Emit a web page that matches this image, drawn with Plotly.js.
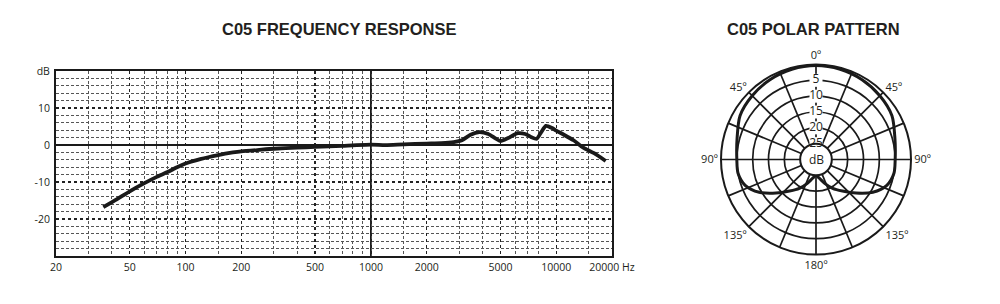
<!DOCTYPE html>
<html>
<head>
<meta charset="utf-8">
<script src="https://cdn.plot.ly/plotly-3.0.1.min.js"></script>
<style>html,body{margin:0;padding:0;background:#fff;}#chart{width:1000px;height:304px;}</style>
</head>
<body>
<div id="chart"></div>
<script>
// ---- Frequency response data ----
const freqHz = [36, 42.5, 50, 60, 70, 80, 90, 100, 120, 150, 180, 200, 250, 300, 400, 500, 700, 1000, 1200, 1500, 2000, 2400, 2800, 3100, 3450, 3850, 4300, 4700, 5000, 5500, 6200, 6800, 7300, 7850, 8300, 8800, 9500, 10000, 11000, 12400, 14000, 16000, 18500];
const responseDb = [-16.8, -14.7, -12.5, -10.3, -8.6, -7.3, -6.0, -5.0, -3.8, -2.7, -2.0, -1.7, -1.3, -1.0, -0.7, -0.5, -0.2, 0.1, 0.0, 0.2, 0.4, 0.5, 0.8, 1.3, 2.8, 3.5, 3.0, 1.8, 1.1, 1.9, 3.2, 3.0, 2.2, 1.7, 3.5, 5.2, 4.6, 3.9, 2.8, 1.3, -0.7, -2.2, -4.3];

const xTickVals = [20, 50, 100, 200, 500, 1000, 2000, 5000, 10000, 20000];
const xTickText = ['20', '50', '100', '200', '500', '1000', '2000', '5000', '10000', '20000 Hz'];
const xMinorGrid = [30, 40, 60, 70, 80, 90, 150, 300, 400, 600, 700, 800, 900, 1500, 3000, 4000, 6000, 7000, 8000, 15000];
const xSolidGrid = [1000];

const yTickVals = [20, 10, 0, -10, -20, -30];
const yTickText = ['dB', '10', '0', '-10', '-20', ''];
const yMinorGrid = [18, 16, 14, 12, 8, 6, 4, 2, -2, -4, -6, -8, -12, -14, -16, -18, -22, -24, -26, -28];

// ---- Polar pattern data: angle (deg) and attenuation (dB) ----
const polarAngles = [0, 15, 30, 45, 60, 75, 90, 100, 110, 120, 130, 140, 150, 160, 170, 180, 190, 200, 210, 220, 230, 240, 250, 260, 270, 285, 300, 315, 330, 345, 360];
const polarAttenDb = [0.3, 0.5, 0.9, 1.5, 2.3, 4.2, 5.0, 5.0, 6.2, 9.3, 13.5, 17.0, 19.5, 22.0, 24.0, 25.0, 24.0, 22.0, 19.5, 17.0, 13.5, 9.3, 6.2, 5.0, 5.0, 4.2, 2.3, 1.5, 0.9, 0.5, 0.3];
const polarMaxDb = 30;
const ringAtten = [5, 10, 15, 20, 25];
const ringLabels = ['5', '10', '15', '20', '25'];
const spokeAngles = [0, 22.5, 45, 67.5, 90, 112.5, 135, 157.5, 180, 202.5, 225, 247.5, 270, 292.5, 315, 337.5];
const spokeLabels = ['0º', '', '45º', '', '90º', '', '135º', '', '180º', '', '135º', '', '90º', '', '45º', ''];

const INK = '#1a1a1a';
const TXT = '#231f20';
const FONT = 'Open Sans, sans-serif';

const traces = [
  {
    type: 'scatter', mode: 'lines', x: freqHz, y: responseDb,
    xaxis: 'x', yaxis: 'y',
    line: {color: INK, width: 3.8, shape: 'spline', smoothing: 0.6},
    hoverinfo: 'skip', showlegend: false
  },
  {
    type: 'scatterpolar', subplot: 'polar', mode: 'lines',
    r: polarAttenDb.map(d => polarMaxDb - d), theta: polarAngles,
    line: {color: INK, width: 3, shape: 'spline', smoothing: 0.8},
    hoverinfo: 'skip', showlegend: false
  },
  {
    type: 'scatterpolar', subplot: 'polar', mode: 'markers+text',
    r: ringAtten.map(d => polarMaxDb - d), theta: ringAtten.map(() => 0),
    text: ringLabels, textposition: 'middle center',
    textfont: {family: FONT, size: 12, color: TXT},
    marker: {symbol: 'square', size: 13, color: '#ffffff', line: {width: 0}},
    cliponaxis: false, hoverinfo: 'skip', showlegend: false
  }
];

const shapes = xSolidGrid.map(f => ({
  type: 'line', xref: 'x', yref: 'y domain', x0: f, x1: f, y0: 0, y1: 1,
  line: {color: INK, width: 1.8}, layer: 'below'
}));

const layout = {
  width: 1000, height: 304, autosize: false,
  margin: {l: 0, r: 0, t: 0, b: 0},
  paper_bgcolor: '#ffffff', plot_bgcolor: '#ffffff',
  font: {family: FONT, size: 10, color: TXT},
  showlegend: false,
  xaxis: {
    type: 'log', domain: [0.056, 0.612],
    range: [Math.log10(20), Math.log10(20000)],
    tickmode: 'array', tickvals: xTickVals, ticktext: xTickText,
    ticks: '', showgrid: true, gridcolor: '#222', gridwidth: 1.4, griddash: 'dot',
    minor: {tickmode: 'array', tickvals: xMinorGrid, showgrid: true, gridcolor: '#555', gridwidth: 1, griddash: '3px,2px', ticks: ''},
    showline: true, mirror: true, linecolor: INK, linewidth: 2,
    zeroline: false, fixedrange: true,
    tickfont: {family: FONT, size: 10.5, color: TXT}
  },
  yaxis: {
    domain: [0.158, 0.766], range: [-30, 20],
    tickmode: 'array', tickvals: yTickVals, ticktext: yTickText,
    ticks: '', ticklabelstandoff: 2,
    showgrid: true, gridcolor: '#222', gridwidth: 1.4, griddash: 'dot',
    minor: {tickmode: 'array', tickvals: yMinorGrid, showgrid: true, gridcolor: '#555', gridwidth: 1, griddash: '3px,2px', ticks: ''},
    zeroline: true, zerolinecolor: INK, zerolinewidth: 1.8,
    showline: true, mirror: true, linecolor: INK, linewidth: 2,
    fixedrange: true,
    tickfont: {family: FONT, size: 10.5, color: TXT}
  },
  polar: {
    domain: {x: [0.721, 0.911], y: [0.1628, 0.7878]},
    hole: 5 / 30,
    bgcolor: '#ffffff',
    radialaxis: {
      range: [5, 30], tickmode: 'array', tickvals: [5, 10, 15, 20, 25],
      showticklabels: false, ticks: '', showline: false,
      gridcolor: INK, gridwidth: 1.7, angle: 90
    },
    angularaxis: {
      rotation: 90, direction: 'clockwise',
      tickmode: 'array', tickvals: spokeAngles, ticktext: spokeLabels,
      ticks: '', gridcolor: INK, gridwidth: 1.7,
      showline: true, linecolor: INK, linewidth: 2,
      tickfont: {family: FONT, size: 11, color: TXT}
    }
  },
  shapes: shapes,
  annotations: [
    {text: 'C05 FREQUENCY RESPONSE', xref: 'paper', yref: 'paper', x: 0.339, y: 0.906,
     xanchor: 'center', yanchor: 'middle', showarrow: false,
     font: {family: 'Liberation Sans, Arial, sans-serif', size: 16.5, color: TXT, weight: 700}},
    {text: 'C05 POLAR PATTERN', xref: 'paper', yref: 'paper', x: 0.813, y: 0.906,
     xanchor: 'center', yanchor: 'middle', showarrow: false,
     font: {family: 'Liberation Sans, Arial, sans-serif', size: 16.5, color: TXT, weight: 700}},
    {text: 'dB', xref: 'paper', yref: 'paper', x: 0.816, y: 0.4753,
     xanchor: 'center', yanchor: 'middle', showarrow: false,
     font: {family: FONT, size: 12, color: TXT}}
  ]
};

Plotly.newPlot('chart', traces, layout, {displayModeBar: false, staticPlot: true});
</script>
</body>
</html>
